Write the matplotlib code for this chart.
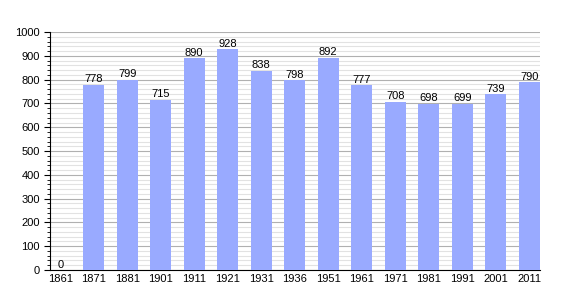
import matplotlib
matplotlib.use('Agg')
import matplotlib.pyplot as plt
from matplotlib.ticker import MultipleLocator

years = ['1861', '1871', '1881', '1901', '1911', '1921', '1931', '1936',
         '1951', '1961', '1971', '1981', '1991', '2001', '2011']
population = [0, 778, 799, 715, 890, 928, 838, 798, 892, 777, 708, 698,
              699, 739, 790]

plt.rcParams['font.family'] = ['Liberation Sans', 'DejaVu Sans']

fig = plt.figure(figsize=(5.7, 3.0), dpi=100)
ax = fig.add_axes([0.088, 0.1, 0.86, 0.793])

x = range(len(years))
ax.bar(x, population, width=0.63, color='#99aaff', zorder=3)
# value labels on top of each bar
for xi, v in zip(x, population):
    ax.text(xi, v + 2, str(v), ha='center', va='bottom', fontsize=8,
            zorder=4)

ax.set_xlim(-0.3, 14.33)
ax.set_ylim(0, 1000)
ax.set_xticks(list(x))
ax.set_xticklabels(years)
ax.yaxis.set_major_locator(MultipleLocator(100))
ax.yaxis.set_minor_locator(MultipleLocator(20))
ax.grid(axis='y', which='major', color='#b0b0b0', linewidth=0.8, zorder=0)
ax.grid(axis='y', which='minor', color='#e2e2e2', linewidth=0.8, zorder=0)

for s in ['top', 'right']:
    ax.spines[s].set_visible(False)
ax.tick_params(axis='x', length=0, labelsize=8, pad=3)
ax.tick_params(axis='y', which='major', length=4, labelsize=8)
ax.tick_params(axis='y', which='minor', length=2)

plt.savefig('out.png')
